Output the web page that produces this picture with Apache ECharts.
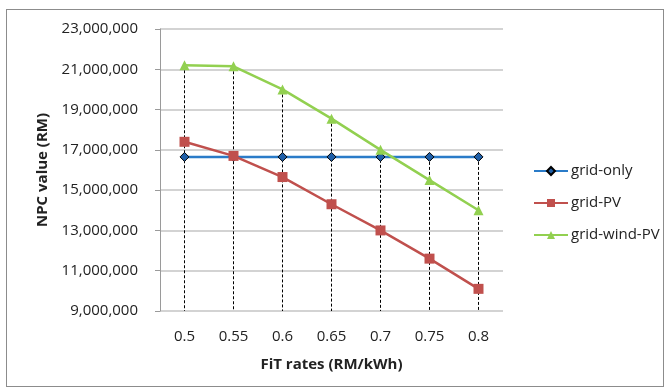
<!DOCTYPE html>
<html>
<head>
<meta charset="utf-8">
<script src="https://cdn.jsdelivr.net/npm/echarts@6/dist/echarts.min.js"></script>
<style>
  html, body { margin: 0; padding: 0; background: #fff; }
  .frame {
    position: absolute; left: 6px; top: 9px; width: 656px; height: 376px;
    border: 1px solid #8c8c8c;
  }
  #chart { position: absolute; left: 0; top: 0; width: 669px; height: 391px; }
</style>
</head>
<body>
<div class="frame"></div>
<div id="chart"></div>
<script>
// FiT rates on x axis
const fitRates = ['0.5', '0.55', '0.6', '0.65', '0.7', '0.75', '0.8']
// NPC values (RM)
const gridOnly = [16650000, 16650000, 16650000, 16650000, 16650000, 16650000, 16650000]
const gridPV = [17400000, 16700000, 15650000, 14300000, 13000000, 11600000, 10100000]
const gridWindPV = [21200000, 21150000, 20000000, 18550000, 17000000, 15500000, 14000000]
const yMin = 9000000
const yMax = 23000000
const yStep = 2000000

const font = '"Open Sans", "Liberation Sans", sans-serif'

// drop lines from the highest point down to the axis floor
const dropLines = fitRates.map((c, i) => {
    const top = Math.max(gridOnly[i], gridPV[i], gridWindPV[i])
    return [{ coord: [i, top] }, { coord: [i, yMin] }]
})

const chart = echarts.init(document.getElementById('chart'))
chart.setOption({
    animation: false,
    textStyle: { fontFamily: font },
    grid: { left: 160, right: 166, top: 29, bottom: 80 },
    legend: {
        orient: 'vertical',
        left: 528,
        top: 156,
        itemGap: 12,
        itemWidth: 34,
        itemHeight: 10,
        textStyle: { fontSize: 15, color: '#222', fontFamily: font, padding: [0, 0, 0, -2], lineHeight: 20 },
        data: ['grid-only', 'grid-PV', 'grid-wind-PV']
    },
    xAxis: {
        type: 'category',
        data: fitRates,
        boundaryGap: true,
        name: 'FiT rates (RM/kWh)',
        nameLocation: 'middle',
        nameGap: 46,
        nameTextStyle: { fontWeight: 'bold', fontSize: 15, color: '#222' },
        axisLine: { show: false },
        axisTick: { show: false },
        axisLabel: { fontSize: 15, color: '#222', margin: 18 }
    },
    yAxis: {
        type: 'value',
        min: yMin,
        max: yMax,
        interval: yStep,
        name: 'NPC value (RM)',
        nameLocation: 'middle',
        nameGap: 104,
        nameTextStyle: { fontWeight: 'bold', fontSize: 15, color: '#222' },
        axisLine: { show: true, lineStyle: { color: '#9a9a9a' } },
        axisTick: { show: true, length: 5, lineStyle: { color: '#9a9a9a' } },
        axisLabel: {
            fontSize: 15, color: '#222', margin: 22,
            formatter: v => v.toLocaleString('en-US')
        },
        splitLine: { lineStyle: { color: '#c4c4c4', width: 1.5 } }
    },
    series: [
        {
            name: 'grid-only',
            type: 'line',
            data: gridOnly,
            symbol: 'diamond',
            symbolSize: 9,
            lineStyle: { color: '#2a7bc8', width: 2.5 },
            itemStyle: { color: '#1f5fa8', borderColor: '#000', borderWidth: 1 },
            z: 3
        },
        {
            name: 'grid-PV',
            type: 'line',
            data: gridPV,
            symbol: 'rect',
            symbolSize: 10,
            lineStyle: { color: '#c0504d', width: 2.5 },
            itemStyle: { color: '#c0504d' },
            z: 4
        },
        {
            name: 'grid-wind-PV',
            type: 'line',
            data: gridWindPV,
            symbol: 'triangle',
            symbolSize: 10,
            lineStyle: { color: '#92d050', width: 2.5 },
            itemStyle: { color: '#92d050' },
            z: 5,
            markLine: {
                silent: true,
                symbol: 'none',
                label: { show: false },
                lineStyle: { color: '#000', type: [3, 2], width: 1 },
                z: 1,
                data: dropLines
            }
        }
    ]
})
</script>
</body>
</html>
